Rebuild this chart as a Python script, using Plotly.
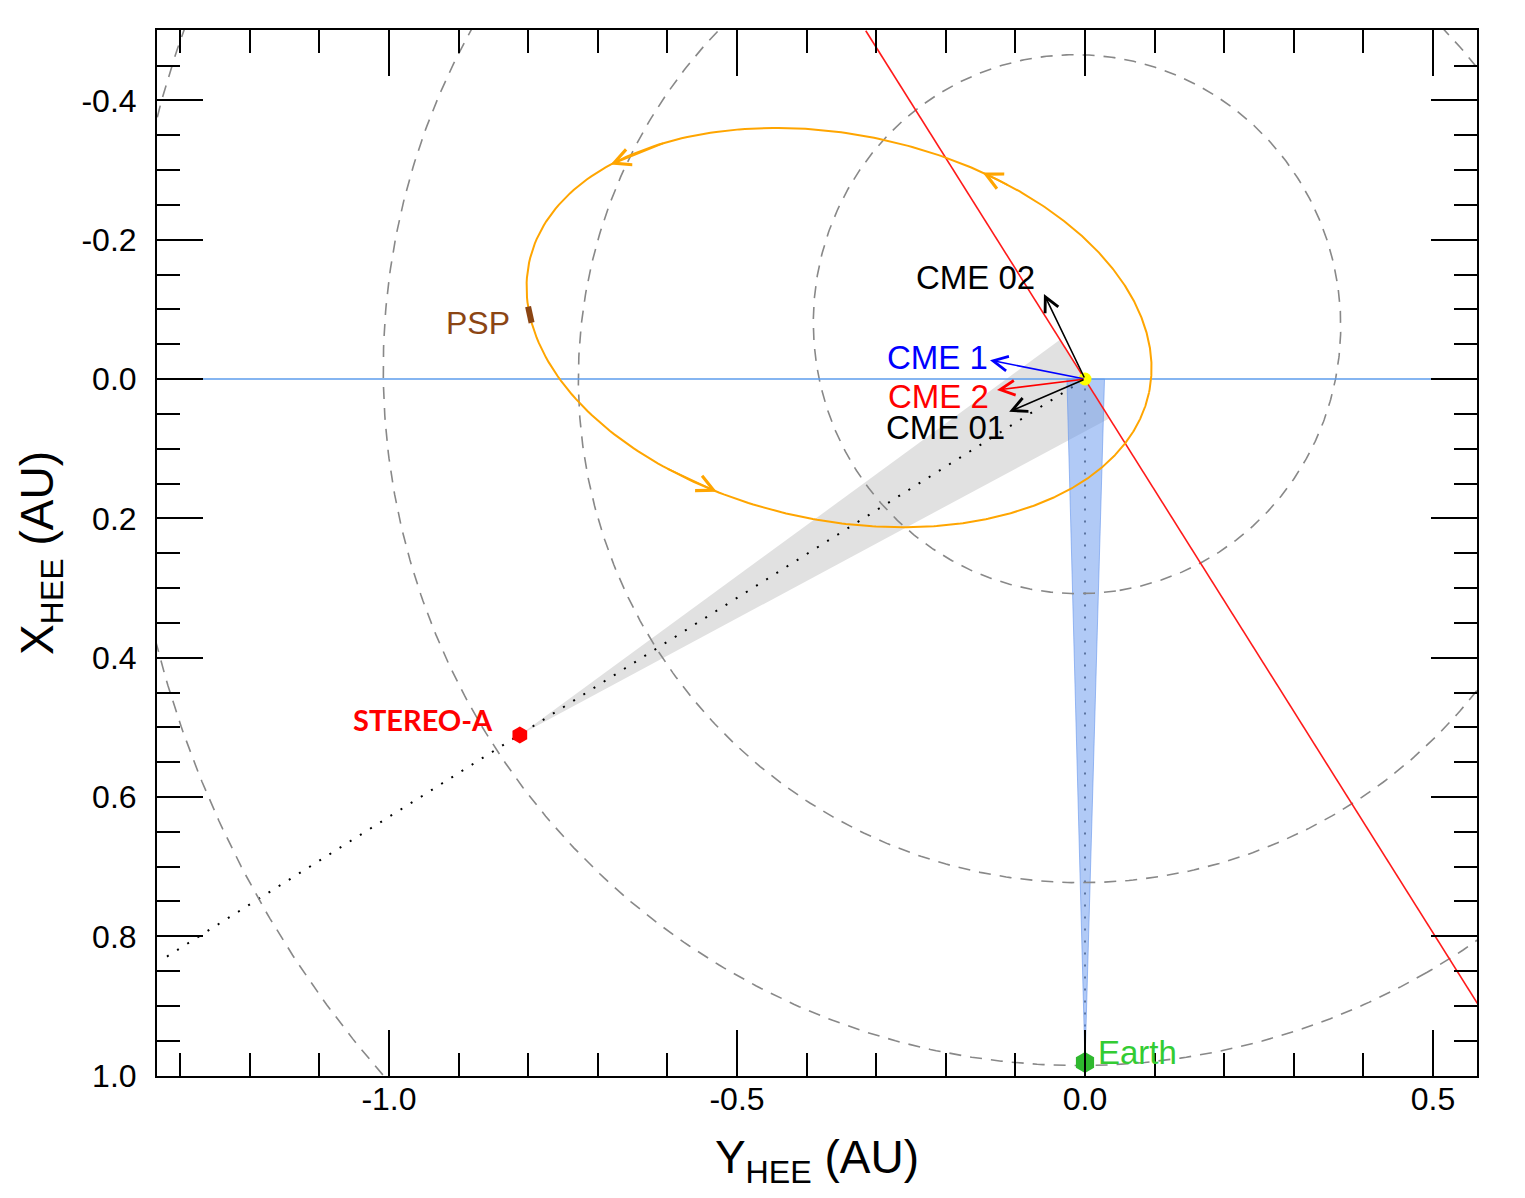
import numpy as np
import plotly.graph_objects as go

# Bahnelemente: a [AU], e, Richtung Perihel [deg, von +Y nach +X]
orbit_names = ['Mercury', 'Venus', 'Earth', 'Mars']
orbit_a = [0.387, 0.723, 1.0, 1.524]
orbit_e = [0.2056, 0.0068, 0.0167, 0.0934]
orbit_peri = [81.7, 0.0, 60.0, 182.0]

psp_a = 0.455
psp_e = 0.7934
psp_peri = 11.8
psp_track_nu = [174.0, 175.6]      # PSP Position auf der Bahn
psp_arrow_nu = [231.8, 192.5, 151.2]

# Positionen (Y_HEE, X_HEE)
sun = (0.0, 0.0)
earth = (0.0, 0.981)
stereo_a = (-0.812, 0.511)

# STEREO-A Sichtlinie und Sichtfeld
sta_los_y = [-1.319, 0.0]
sta_los_x = [0.829, 0.0]
sta_fov_y = [-0.812, -0.035, 0.034, -0.812]
sta_fov_x = [0.511, -0.057, 0.057, 0.511]

# Erde Sichtfeld
earth_fov_y = [0.0, -0.026, 0.028, 0.0]
earth_fov_x = [0.981, 0.0, 0.0, 0.981]
earth_los_y = [0.0, 0.0]
earth_los_x = [0.981, 0.0]
earth_stub_x = [0.981, 0.94]

# Linien
horiz_y = [-1.4, 0.6]
horiz_x = [0.0, 0.0]
red_line_y = [-0.315, 0.629]
red_line_x = [-0.5, 1.0]

# CMEs
cme_names = ['CME 02', 'CME 1', 'CME 2', 'CME 01']
cme_tip_y = [-0.059, -0.1365, -0.1264, -0.109]
cme_tip_x = [-0.122, -0.027, 0.0158, 0.047]
cme_colors = ['black', 'blue', 'red', 'black']
cme_label_y = [-0.157, -0.2126, -0.2098, -0.201]
cme_label_x = [-0.146, -0.0316, 0.0258, 0.0703]

# Achsenbeschriftung
x_tick_vals = [-1.0, -0.5, 0.0, 0.5]
x_tick_text = ['-1.0', '-0.5', '0.0', '0.5']
y_tick_vals = [-0.4, -0.2, 0.0, 0.2, 0.4, 0.6, 0.8, 1.0]
y_tick_text = ['-0.4', '-0.2', '0.0', '0.2', '0.4', '0.6', '0.8', '1.0']

FONT = 'Liberation Sans, Arial, Helvetica, sans-serif'


def conic(a, e, peri_deg, nu_deg):
    # Ellipse mit der Sonne im Brennpunkt
    nu = np.radians(np.asarray(nu_deg, dtype=float))
    p = a * (1 - e ** 2)
    r = p / (1 + e * np.cos(nu))
    phi = nu + np.radians(peri_deg)
    return r * np.cos(phi), r * np.sin(phi)


nu_all = np.linspace(0, 360, 721)

fig = go.Figure()

# Sichtfeld STEREO-A (grau)
fig.add_trace(go.Scatter(x=sta_fov_y, y=sta_fov_x, mode='lines', fill='toself',
                         fillcolor='#e1e1e1', line=dict(width=0), hoverinfo='skip'))

# Sichtlinien gepunktet
fig.add_trace(go.Scatter(x=sta_los_y, y=sta_los_x, mode='lines',
                         line=dict(color='black', width=2, dash='2px,10px')))
fig.add_trace(go.Scatter(x=earth_los_y, y=earth_los_x, mode='lines',
                         line=dict(color='#555555', width=2, dash='2px,10px')))

# Sichtfeld Erde (blau, halbtransparent)
fig.add_trace(go.Scatter(x=earth_fov_y, y=earth_fov_x, mode='lines', fill='toself',
                         fillcolor='rgba(100,149,237,0.5)',
                         line=dict(color='rgba(100,149,237,0.6)', width=1), hoverinfo='skip'))

# Planetenbahnen
for name, a, e, w in zip(orbit_names, orbit_a, orbit_e, orbit_peri):
    oy, ox = conic(a, e, w, nu_all)
    fig.add_trace(go.Scatter(x=oy, y=ox, mode='lines', name=name,
                             line=dict(color='#888888', width=1.6, dash='12px,9px')))

# horizontale Linie und rote Linie
fig.add_trace(go.Scatter(x=horiz_y, y=horiz_x, mode='lines',
                         line=dict(color='#5d9cec', width=1.6)))
fig.add_trace(go.Scatter(x=red_line_y, y=red_line_x, mode='lines',
                         line=dict(color='#ff1a1a', width=1.6)))

# PSP Bahn
py, px = conic(psp_a, psp_e, psp_peri, nu_all)
fig.add_trace(go.Scatter(x=py, y=px, mode='lines',
                         line=dict(color='#ffa500', width=2)))

# kurzes Stück an der Erde
fig.add_trace(go.Scatter(x=[earth[0], earth[0]], y=earth_stub_x, mode='lines',
                         line=dict(color='black', width=2)))

# PSP Position
ty, tx = conic(psp_a, psp_e, psp_peri, psp_track_nu)
fig.add_trace(go.Scatter(x=ty, y=tx, mode='lines',
                         line=dict(color='#8b4513', width=6)))

# Sonne, Erde, STEREO-A
fig.add_trace(go.Scatter(x=[sun[0]], y=[sun[1]], mode='markers',
                         marker=dict(color='#ffff00', size=13, line=dict(width=0))))
fig.add_trace(go.Scatter(x=[earth[0]], y=[earth[1]], mode='markers',
                         marker=dict(color='#2eb82e', size=21, symbol='hexagon', line=dict(width=0))))
fig.add_trace(go.Scatter(x=[stereo_a[0]], y=[stereo_a[1]], mode='markers',
                         marker=dict(color='#ff0000', size=17, symbol='hexagon', line=dict(width=0))))

annotations = []

# CME Pfeile und Beschriftungen
for name, ty_, tx_, col, ly, lx in zip(cme_names, cme_tip_y, cme_tip_x, cme_colors,
                                       cme_label_y, cme_label_x):
    annotations.append(dict(x=ty_, y=tx_, ax=sun[0], ay=sun[1], xref='x', yref='y',
                            axref='x', ayref='y', showarrow=True, arrowhead=5,
                            arrowsize=1.8, arrowwidth=1.6, arrowcolor=col, text='',
                            standoff=0, startstandoff=0))
    annotations.append(dict(x=ly, y=lx, xref='x', yref='y', text=name, showarrow=False,
                            xanchor='center', yanchor='middle',
                            font=dict(size=33, color=col, family=FONT)))

# Pfeile auf der PSP Bahn
for nu in psp_arrow_nu:
    hy, hx = conic(psp_a, psp_e, psp_peri, nu)
    sy, sx = conic(psp_a, psp_e, psp_peri, nu + 5)
    annotations.append(dict(x=float(hy), y=float(hx), ax=float(sy), ay=float(sx),
                            xref='x', yref='y', axref='x', ayref='y', showarrow=True,
                            arrowhead=5, arrowsize=1.8, arrowwidth=1.8,
                            arrowcolor='#ffa500', text='', standoff=0))

annotations.append(dict(x=-0.872, y=-0.080, xref='x', yref='y', text='PSP', showarrow=False,
                        xanchor='center', yanchor='middle',
                        font=dict(size=32, color='#8b4513', family=FONT)))
annotations.append(dict(x=-0.848, y=0.489, xref='x', yref='y', text='<b>STEREO-A</b>',
                        showarrow=False, xanchor='right', yanchor='middle',
                        font=dict(size=29, color='#ff0000', family='Lato, Open Sans, sans-serif')))
annotations.append(dict(x=0.016, y=0.967, xref='x', yref='y', text='Earth', showarrow=False,
                        xanchor='left', yanchor='middle',
                        font=dict(size=33, color='#33cc33', family=FONT)))

axis_common = dict(
    ticks='inside', tickwidth=1.8, tickcolor='black', ticklen=46,
    showline=True, linewidth=2, linecolor='black', mirror='ticks',
    showgrid=False, zeroline=False,
    tickfont=dict(size=32, color='black', family=FONT),
)

# Seite hat 8px Rand, daher etwas kleiner
fig.update_layout(
    width=1509, height=1182,
    margin=dict(l=149, r=40, t=22, b=114),
    plot_bgcolor='white', paper_bgcolor='white',
    showlegend=False,
    font=dict(family=FONT, color='black'),
    annotations=annotations,
    xaxis=dict(range=[-1.3333, 0.5632], tickmode='array', tickvals=x_tick_vals,
               ticktext=x_tick_text,
               minor=dict(tickmode='linear', tick0=0, dtick=0.1, ticks='inside', ticklen=23,
                          tickwidth=1.8, tickcolor='black'),
               ticklabelstandoff=-6,
               title=dict(text='Y<sub>HEE</sub> (AU)', font=dict(size=46, family=FONT),
                          standoff=29),
               **axis_common),
    yaxis=dict(range=[1.0005, -0.501], tickmode='array', tickvals=y_tick_vals,
               ticktext=y_tick_text,
               minor=dict(tickmode='linear', tick0=0, dtick=0.05, ticks='inside', ticklen=23,
                          tickwidth=1.8, tickcolor='black'),
               ticklabelstandoff=12,
               title=dict(text='X<sub>HEE</sub> (AU)', font=dict(size=46, family=FONT),
                          standoff=13),
               **axis_common),
)

fig.write_html('out.html')
